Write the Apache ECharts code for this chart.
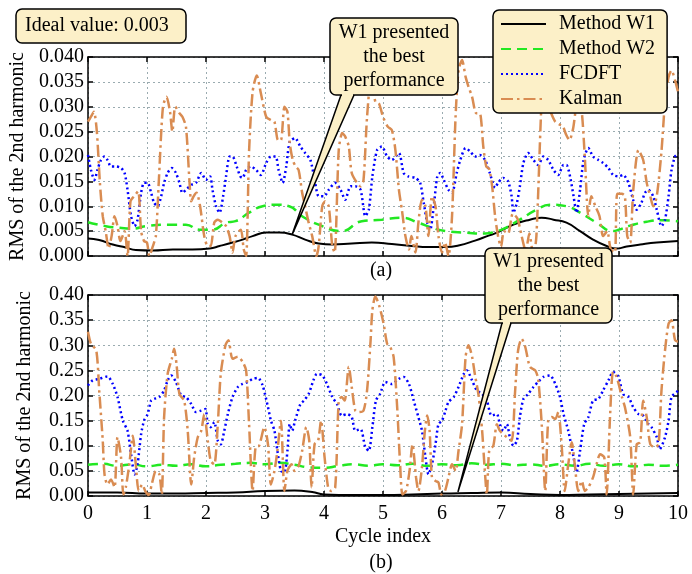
<!DOCTYPE html>
<html>
<head>
<meta charset="utf-8">
<script src="https://cdn.jsdelivr.net/npm/echarts@6/dist/echarts.min.js"></script>
<style>
html,body{margin:0;padding:0;background:#fff;}
#main{width:692px;height:574px;}
</style>
</head>
<body>
<div id="main"></div>
<script>
var seriesNames = ['Method W1', 'Method W2', 'FCDFT', 'Kalman'];
var xTicks = [0, 1, 2, 3, 4, 5, 6, 7, 8, 9, 10];
var topTicks = ['0.000', '0.005', '0.010', '0.015', '0.020', '0.025', '0.030', '0.035', '0.040'];
var botTicks = ['0.00', '0.05', '0.10', '0.15', '0.20', '0.25', '0.30', '0.35', '0.40'];

// (a) values: [cycle, rms]
var topW1 = [[0,0.0035],[0.19,0.0032],[0.42,0.0023],[0.64,0.0017],[0.81,0.0012],[1.1,0.0011],[1.44,0.0013],[1.77,0.0013],[2.06,0.0015],[2.23,0.002],[2.45,0.0027],[2.62,0.0033],[2.79,0.004],[3.02,0.0047],[3.24,0.0047],[3.46,0.0043],[3.68,0.0033],[3.91,0.0025],[4.14,0.0023],[4.47,0.0025],[4.81,0.0027],[5.15,0.0024],[5.49,0.002],[5.77,0.0018],[6.06,0.0018],[6.28,0.0021],[6.56,0.0031],[6.79,0.0041],[6.93,0.0047],[7.21,0.0063],[7.49,0.0073],[7.69,0.0077],[7.89,0.0073],[8.11,0.0067],[8.34,0.005],[8.56,0.0033],[8.79,0.002],[8.96,0.0015],[9.13,0.0019],[9.36,0.0023],[9.64,0.0027],[10,0.003]];
var topW2 = [[0,0.0068],[0.3,0.006],[0.53,0.0057],[0.76,0.0055],[0.98,0.006],[1.38,0.0063],[1.66,0.0063],[1.89,0.0053],[2.11,0.0053],[2.34,0.0067],[2.5,0.007],[2.73,0.0087],[2.96,0.010],[3.19,0.0103],[3.41,0.010],[3.63,0.008],[3.91,0.0063],[4.3,0.005],[4.64,0.007],[4.98,0.0073],[5.32,0.0077],[5.6,0.0067],[5.83,0.0057],[6.06,0.005],[6.4,0.0047],[6.73,0.0045],[6.93,0.005],[7.05,0.0055],[7.32,0.0073],[7.6,0.0093],[7.83,0.0103],[8.11,0.010],[8.34,0.0087],[8.62,0.0067],[8.9,0.005],[9.0,0.0053],[9.19,0.0061],[9.47,0.0069],[9.75,0.0072],[10,0.007]];
var topFcdft = [[0,0.0203],[0.05,0.0173],[0.11,0.0153],[0.16,0.0173],[0.22,0.0193],[0.28,0.020],[0.33,0.0193],[0.39,0.018],[0.47,0.018],[0.56,0.0177],[0.62,0.0167],[0.67,0.0133],[0.73,0.008],[0.79,0.006],[0.84,0.0073],[0.9,0.0127],[0.95,0.0147],[1.01,0.0147],[1.07,0.0127],[1.12,0.0107],[1.18,0.010],[1.24,0.012],[1.29,0.0147],[1.35,0.0167],[1.42,0.0177],[1.49,0.0167],[1.55,0.0147],[1.6,0.0127],[1.66,0.0133],[1.75,0.0143],[1.83,0.0147],[1.92,0.0167],[2.0,0.0153],[2.07,0.016],[2.11,0.0133],[2.17,0.010],[2.23,0.0087],[2.29,0.012],[2.34,0.016],[2.4,0.020],[2.45,0.020],[2.52,0.018],[2.58,0.016],[2.62,0.0157],[2.68,0.0173],[2.76,0.018],[2.85,0.0173],[2.93,0.0163],[3.02,0.0187],[3.1,0.020],[3.18,0.020],[3.23,0.0173],[3.3,0.0147],[3.36,0.018],[3.42,0.023],[3.51,0.0237],[3.6,0.022],[3.68,0.0207],[3.77,0.0193],[3.85,0.0147],[3.91,0.012],[4.0,0.012],[4.08,0.0133],[4.19,0.0147],[4.28,0.0133],[4.36,0.0113],[4.45,0.014],[4.53,0.014],[4.62,0.0133],[4.7,0.008],[4.76,0.0093],[4.82,0.016],[4.9,0.0213],[4.98,0.022],[5.07,0.020],[5.15,0.0193],[5.27,0.0207],[5.35,0.0167],[5.43,0.016],[5.55,0.0157],[5.63,0.0147],[5.69,0.0107],[5.75,0.0067],[5.8,0.0053],[5.86,0.010],[5.92,0.016],[5.97,0.0167],[6.03,0.0153],[6.11,0.0133],[6.17,0.0127],[6.25,0.0167],[6.31,0.0193],[6.4,0.0217],[6.48,0.021],[6.56,0.020],[6.64,0.0203],[6.73,0.0193],[6.81,0.0167],[6.9,0.0137],[6.95,0.0147],[7.04,0.0157],[7.12,0.015],[7.18,0.012],[7.21,0.0087],[7.27,0.0107],[7.32,0.014],[7.38,0.0187],[7.46,0.0207],[7.55,0.0193],[7.63,0.0183],[7.72,0.020],[7.8,0.0193],[7.89,0.0173],[7.97,0.0163],[8.06,0.0183],[8.11,0.0183],[8.17,0.016],[8.23,0.012],[8.28,0.0087],[8.34,0.0133],[8.4,0.0193],[8.48,0.0217],[8.56,0.020],[8.65,0.0193],[8.73,0.0187],[8.82,0.0177],[8.9,0.0163],[8.99,0.016],[9.07,0.0163],[9.16,0.0147],[9.24,0.0113],[9.3,0.0093],[9.38,0.0107],[9.44,0.0127],[9.5,0.0133],[9.58,0.012],[9.64,0.0093],[9.72,0.006],[9.78,0.0073],[9.84,0.012],[9.89,0.0173],[9.95,0.020],[10,0.0205]];
var topKalman = [[0,0.027],[0.05,0.028],[0.1,0.029],[0.15,0.025],[0.2,0.015],[0.25,0.008],[0.3,0.005],[0.35,0.0015],[0.4,0.004],[0.45,0.008],[0.5,0.006],[0.55,0.003],[0.62,0.005],[0.67,0.0],[0.72,0.011],[0.78,0.012],[0.85,0.013],[0.9,0.005],[0.95,0.003],[1.0,0.0027],[1.04,0.0],[1.1,0.002],[1.15,0.004],[1.2,0.015],[1.27,0.030],[1.33,0.032],[1.39,0.029],[1.43,0.025],[1.48,0.030],[1.55,0.0287],[1.6,0.028],[1.66,0.026],[1.72,0.015],[1.75,0.011],[1.79,0.012],[1.84,0.0127],[1.9,0.010],[1.97,0.004],[2.03,0.002],[2.08,0.002],[2.14,0.0067],[2.2,0.0073],[2.28,0.0067],[2.34,0.006],[2.4,0.004],[2.45,0.0007],[2.5,0.004],[2.59,0.0053],[2.64,0.0013],[2.68,0.0],[2.73,0.021],[2.79,0.033],[2.86,0.0363],[2.93,0.0327],[3.02,0.028],[3.1,0.0273],[3.16,0.027],[3.22,0.0233],[3.27,0.0233],[3.33,0.030],[3.38,0.029],[3.42,0.0227],[3.47,0.0193],[3.52,0.018],[3.57,0.0173],[3.63,0.0127],[3.68,0.010],[3.74,0.0067],[3.8,0.004],[3.87,0.0],[3.91,0.002],[3.97,0.010],[4.02,0.011],[4.08,0.010],[4.14,0.002],[4.18,0.0007],[4.25,0.0213],[4.31,0.0247],[4.36,0.024],[4.42,0.022],[4.47,0.0167],[4.56,0.0147],[4.62,0.014],[4.67,0.0153],[4.73,0.028],[4.8,0.036],[4.87,0.031],[4.93,0.0307],[5.0,0.028],[5.08,0.026],[5.15,0.0253],[5.21,0.0213],[5.27,0.0133],[5.32,0.0093],[5.38,0.004],[5.44,0.0013],[5.48,0.004],[5.55,0.0007],[5.6,0.0067],[5.66,0.0113],[5.72,0.010],[5.77,0.004],[5.83,0.012],[5.89,0.010],[5.94,0.004],[6.0,0.0007],[6.05,0.0027],[6.11,0.0],[6.17,0.008],[6.23,0.028],[6.28,0.0373],[6.34,0.0394],[6.4,0.036],[6.45,0.034],[6.51,0.032],[6.58,0.0287],[6.64,0.0287],[6.7,0.022],[6.75,0.018],[6.8,0.0175],[6.85,0.014],[6.9,0.008],[6.95,0.004],[7.0,0.0018],[7.05,0.005],[7.12,0.0045],[7.2,0.0085],[7.28,0.0075],[7.35,0.004],[7.42,0.001],[7.48,0.0045],[7.55,0.0],[7.6,0.004],[7.68,0.029],[7.72,0.036],[7.78,0.031],[7.85,0.0287],[7.92,0.027],[7.98,0.0265],[8.05,0.026],[8.1,0.0245],[8.16,0.0233],[8.22,0.0255],[8.3,0.031],[8.36,0.030],[8.42,0.020],[8.48,0.008],[8.53,0.012],[8.6,0.010],[8.67,0.008],[8.73,0.004],[8.8,0.005],[8.86,0.0013],[8.93,0.0007],[8.97,0.0125],[9.05,0.0125],[9.1,0.012],[9.14,0.004],[9.19,0.0027],[9.24,0.013],[9.33,0.0213],[9.41,0.0193],[9.47,0.0147],[9.53,0.012],[9.58,0.010],[9.64,0.012],[9.72,0.021],[9.78,0.031],[9.84,0.036],[9.89,0.0373],[9.95,0.0353],[10,0.033]];

// (b)
var botW1 = [[0,0.007],[0.5,0.007],[1,0.005],[1.5,0.005],[2,0.006],[2.5,0.007],[3,0.01],[3.5,0.011],[3.8,0.008],[4,0.003],[4.5,0.002],[5,0.002],[5.5,0.003],[6,0.005],[6.5,0.006],[7,0.007],[7.5,0.004],[8,0.002],[8.5,0.003],[9,0.004],[9.5,0.005],[10,0.006]];
var botW2 = [[0,0.062],[0.25,0.064],[0.5,0.06],[0.75,0.063],[1.0,0.059],[1.25,0.062],[1.5,0.06],[1.75,0.063],[2.0,0.059],[2.25,0.062],[2.5,0.064],[2.75,0.066],[3.0,0.063],[3.25,0.066],[3.5,0.062],[3.75,0.057],[4.0,0.056],[4.25,0.06],[4.5,0.063],[4.75,0.06],[5.0,0.063],[5.25,0.061],[5.5,0.064],[5.75,0.06],[6.0,0.063],[6.25,0.061],[6.5,0.065],[6.75,0.062],[7.0,0.064],[7.25,0.061],[7.5,0.063],[7.75,0.06],[8.0,0.063],[8.25,0.06],[8.5,0.064],[8.75,0.06],[9.0,0.063],[9.25,0.059],[9.5,0.062],[9.75,0.06],[10,0.062]];
var botFcdft = [[0,0.22],[0.08,0.23],[0.19,0.233],[0.33,0.238],[0.42,0.223],[0.5,0.197],[0.59,0.15],[0.67,0.13],[0.73,0.083],[0.79,0.043],[0.84,0.063],[0.9,0.123],[0.95,0.15],[1.01,0.163],[1.07,0.19],[1.12,0.193],[1.21,0.197],[1.29,0.21],[1.35,0.23],[1.41,0.24],[1.49,0.227],[1.58,0.20],[1.66,0.197],[1.75,0.183],[1.83,0.167],[1.92,0.17],[1.99,0.173],[2.03,0.143],[2.08,0.137],[2.14,0.147],[2.2,0.11],[2.25,0.103],[2.31,0.13],[2.37,0.163],[2.45,0.197],[2.54,0.217],[2.62,0.223],[2.71,0.227],[2.79,0.233],[2.88,0.235],[2.96,0.22],[3.05,0.177],[3.1,0.15],[3.16,0.13],[3.21,0.09],[3.27,0.05],[3.33,0.047],[3.38,0.09],[3.42,0.143],[3.46,0.13],[3.51,0.15],[3.6,0.183],[3.66,0.19],[3.74,0.203],[3.82,0.23],[3.88,0.243],[3.97,0.24],[4.05,0.223],[4.14,0.197],[4.22,0.183],[4.3,0.16],[4.39,0.163],[4.47,0.157],[4.53,0.13],[4.62,0.133],[4.7,0.097],[4.76,0.09],[4.82,0.137],[4.88,0.19],[4.95,0.203],[5.04,0.227],[5.15,0.223],[5.27,0.233],[5.35,0.237],[5.44,0.223],[5.52,0.19],[5.6,0.157],[5.66,0.13],[5.72,0.077],[5.77,0.043],[5.83,0.063],[5.89,0.103],[5.94,0.143],[6.0,0.15],[6.06,0.17],[6.11,0.187],[6.2,0.197],[6.28,0.217],[6.37,0.243],[6.42,0.25],[6.51,0.23],[6.59,0.21],[6.68,0.203],[6.76,0.19],[6.84,0.16],[6.93,0.163],[6.98,0.143],[7.04,0.13],[7.1,0.143],[7.15,0.117],[7.21,0.10],[7.27,0.11],[7.32,0.157],[7.38,0.193],[7.46,0.203],[7.55,0.217],[7.63,0.227],[7.72,0.237],[7.83,0.24],[7.92,0.223],[8.0,0.197],[8.06,0.163],[8.14,0.13],[8.23,0.077],[8.28,0.047],[8.34,0.09],[8.41,0.143],[8.48,0.157],[8.56,0.19],[8.65,0.193],[8.73,0.21],[8.82,0.23],[8.9,0.247],[8.99,0.237],[9.07,0.203],[9.16,0.197],[9.24,0.177],[9.33,0.163],[9.41,0.16],[9.5,0.143],[9.55,0.137],[9.64,0.117],[9.69,0.093],[9.78,0.117],[9.84,0.15],[9.89,0.197],[9.98,0.207],[10,0.21]];
var botKalman = [[0,0.327],[0.05,0.303],[0.14,0.29],[0.19,0.21],[0.25,0.11],[0.28,0.043],[0.33,0.023],[0.39,0.033],[0.45,0.017],[0.5,0.117],[0.56,0.077],[0.6,0.003],[0.64,0.017],[0.7,0.063],[0.76,0.12],[0.81,0.063],[0.86,0.01],[0.92,0.023],[0.97,0.01],[1.03,0.002],[1.08,0.023],[1.15,0.05],[1.21,0.043],[1.25,0.003],[1.29,0.157],[1.35,0.243],[1.42,0.273],[1.46,0.293],[1.5,0.263],[1.55,0.203],[1.63,0.19],[1.69,0.13],[1.75,0.023],[1.8,0.077],[1.86,0.117],[1.92,0.13],[1.97,0.163],[2.03,0.11],[2.08,0.07],[2.14,0.063],[2.2,0.143],[2.25,0.243],[2.33,0.30],[2.38,0.31],[2.45,0.273],[2.54,0.277],[2.62,0.267],[2.68,0.25],[2.73,0.143],[2.79,0.01],[2.84,0.097],[2.9,0.10],[2.99,0.137],[3.05,0.103],[3.1,0.023],[3.16,0.05],[3.21,0.09],[3.27,0.15],[3.33,0.01],[3.38,0.05],[3.45,0.063],[3.5,0.05],[3.57,0.06],[3.63,0.09],[3.7,0.137],[3.75,0.11],[3.79,0.017],[3.84,0.103],[3.9,0.11],[3.95,0.15],[4.01,0.077],[4.07,0.017],[4.12,0.01],[4.19,0.017],[4.25,0.19],[4.3,0.197],[4.35,0.19],[4.42,0.257],[4.47,0.217],[4.53,0.17],[4.59,0.167],[4.67,0.17],[4.73,0.21],[4.79,0.31],[4.82,0.37],[4.87,0.397],[4.94,0.377],[5.01,0.343],[5.07,0.303],[5.12,0.297],[5.18,0.277],[5.24,0.177],[5.29,0.063],[5.33,0.003],[5.39,0.01],[5.45,0.05],[5.5,0.103],[5.56,0.037],[5.6,0.01],[5.66,0.057],[5.71,0.13],[5.75,0.16],[5.79,0.13],[5.83,0.037],[5.89,0.03],[5.94,0.027],[5.99,0.003],[6.05,0.01],[6.11,0.037],[6.17,0.063],[6.23,0.05],[6.28,0.09],[6.34,0.143],[6.4,0.277],[6.45,0.30],[6.51,0.277],[6.56,0.24],[6.62,0.2],[6.68,0.13],[6.72,0.06],[6.76,0.003],[6.8,0.09],[6.87,0.10],[6.93,0.143],[6.98,0.13],[7.04,0.123],[7.1,0.117],[7.18,0.11],[7.24,0.21],[7.29,0.29],[7.35,0.313],[7.41,0.297],[7.49,0.257],[7.58,0.25],[7.63,0.233],[7.69,0.143],[7.75,0.01],[7.8,0.15],[7.86,0.157],[7.92,0.153],[7.97,0.167],[8.03,0.097],[8.08,0.01],[8.14,0.063],[8.2,0.107],[8.25,0.063],[8.31,0.01],[8.37,0.03],[8.42,0.01],[8.48,0.017],[8.56,0.037],[8.62,0.063],[8.68,0.083],[8.75,0.077],[8.79,0.003],[8.85,0.163],[8.9,0.247],[8.96,0.237],[9.05,0.197],[9.1,0.177],[9.19,0.117],[9.24,0.003],[9.3,0.103],[9.36,0.107],[9.41,0.19],[9.47,0.157],[9.53,0.103],[9.61,0.097],[9.67,0.103],[9.72,0.21],[9.78,0.29],[9.84,0.343],[9.89,0.35],[9.95,0.31],[10,0.307]];

var serif = 'Liberation Serif';
var beige = '#fcf0c8';
var gridColor = '#9aabb0';

var lineStyles = [
	{ color: '#000000', width: 2, type: 'solid' },
	{ color: '#22e822', width: 2.5, type: [10, 6] },
	{ color: '#0000ff', width: 2.5, type: [2, 3] },
	{ color: '#d98c52', width: 2.5, type: [12, 4, 2.5, 4] }
];

function makeX(grid, pos, labels) {
	return {
		type: 'value', gridIndex: grid, position: pos,
		min: 0, max: 10, interval: 1,
		axisLine: { show: true, onZero: false, lineStyle: { color: '#000', width: 1.5 } },
		axisTick: { show: true, inside: true, length: 5, lineStyle: { color: '#000', width: 1.5 } },
		axisLabel: labels ? {
			show: true, color: '#000', fontFamily: serif, fontSize: 20, margin: 8,
			formatter: function (v) { return xTicks.indexOf(v) >= 0 ? String(v) : ''; }
		} : { show: false },
		splitLine: pos == 'bottom' ? { show: true, lineStyle: { color: gridColor, width: 1, type: [2, 3] } } : { show: false }
	};
}
function makeY(grid, pos, max, interval, ticks) {
	return {
		type: 'value', gridIndex: grid, position: pos,
		min: 0, max: max, interval: interval,
		name: pos == 'left' ? 'RMS of the 2nd harmonic' : '',
		nameLocation: 'middle', nameGap: 53,
		nameTextStyle: { color: '#000', fontFamily: serif, fontSize: 20 },
		axisLine: { show: true, onZero: false, lineStyle: { color: '#000', width: 1.5 } },
		axisTick: { show: true, inside: true, length: 5, lineStyle: { color: '#000', width: 1.5 } },
		axisLabel: pos == 'left' ? {
			show: true, color: '#000', fontFamily: serif, fontSize: 20, margin: 4,
			formatter: function (v) { return ticks[Math.round(v / interval)]; }
		} : { show: false },
		splitLine: pos == 'left' ? { show: true, lineStyle: { color: gridColor, width: 1, type: [2, 3] } } : { show: false }
	};
}

var topData = [topW1, topW2, topFcdft, topKalman];
var botData = [botW1, botW2, botFcdft, botKalman];
var series = [];
for (var i = 0; i < 4; i++) {
	series.push({
		name: seriesNames[i], type: 'line', xAxisIndex: 0, yAxisIndex: 0,
		data: topData[i], symbol: 'none', smooth: i < 2 ? 0.5 : 0.25,
		lineStyle: lineStyles[i], itemStyle: { color: lineStyles[i].color }, animation: false
	});
}
for (var j = 0; j < 4; j++) {
	series.push({
		name: seriesNames[j], type: 'line', xAxisIndex: 2, yAxisIndex: 2,
		data: botData[j], symbol: 'none', smooth: j < 2 ? 0.5 : 0.25,
		lineStyle: lineStyles[j], itemStyle: { color: lineStyles[j].color }, animation: false
	});
}

var myChart = echarts.init(document.getElementById('main'));
var option = {
	backgroundColor: '#fff',
	animation: false,
	grid: [
		{ left: 88, right: 14, top: 57, height: 199 },
		{ left: 88, right: 14, top: 295, height: 201 }
	],
	xAxis: [
		makeX(0, 'bottom', false),
		makeX(0, 'top', false),
		Object.assign(makeX(1, 'bottom', true), {
			name: 'Cycle index', nameLocation: 'middle', nameGap: 31,
			nameTextStyle: { color: '#000', fontFamily: serif, fontSize: 20 }
		}),
		makeX(1, 'top', false)
	],
	yAxis: [
		makeY(0, 'left', 0.04, 0.005, topTicks),
		makeY(0, 'right', 0.04, 0.005, topTicks),
		makeY(1, 'left', 0.4, 0.05, botTicks),
		makeY(1, 'right', 0.4, 0.05, botTicks)
	],
	legend: {
		data: seriesNames,
		orient: 'vertical',
		left: 493, top: 10,
		padding: [4, 12, 4, 7],
		itemWidth: 45, itemHeight: 20, itemGap: 5,
		itemStyle: { opacity: 0 },
		backgroundColor: beige,
		borderColor: '#000', borderWidth: 1.5, borderRadius: 6,
		textStyle: { color: '#000', fontFamily: serif, fontSize: 20, padding: [0, 0, 0, 8] },
		z: 20
	},
	series: series
};
myChart.setOption(option);

// callouts: tip anchored to data points
function callout(box, base, tip, lines) {
	var els = [];
	els.push({
		type: 'polygon', z: 30,
		shape: { points: [[base[0], box[1] + box[3]], [base[1], box[1] + box[3]], tip] },
		style: { fill: beige, stroke: '#000', lineWidth: 1.5 }
	});
	els.push({
		type: 'rect', z: 31,
		shape: { x: box[0], y: box[1], width: box[2], height: box[3], r: 6 },
		style: { fill: beige, stroke: '#000', lineWidth: 1.5 }
	});
	els.push({
		type: 'rect', z: 32,
		shape: { x: base[0] + 1, y: box[1] + box[3] - 2, width: base[1] - base[0] - 2, height: 3 },
		style: { fill: beige }
	});
	els.push({
		type: 'text', z: 33,
		style: {
			x: box[0] + box[2] / 2, y: box[1] + box[3] / 2,
			text: lines.join('\n'), align: 'center', verticalAlign: 'middle',
			fill: '#000', fontFamily: serif, fontSize: 20, lineHeight: 24
		}
	});
	return els;
}
var tipA = myChart.convertToPixel({ gridIndex: 0 }, [3.46, 0.0043]);
var tipB = myChart.convertToPixel({ gridIndex: 1 }, [6.27, 0.008]);
var graphics = [];
graphics = graphics.concat(callout([330, 18, 128, 77], [341, 354], tipA, ['W1 presented', 'the best', 'performance']));
graphics = graphics.concat(callout([485, 248, 127, 75], [502, 511], tipB, ['W1 presented', 'the best', 'performance']));
graphics.push({
	type: 'rect', z: 30,
	shape: { x: 16, y: 9, width: 170, height: 34, r: 6 },
	style: { fill: beige, stroke: '#000', lineWidth: 1.5 }
});
graphics.push({
	type: 'text', z: 31,
	style: { x: 25, y: 26, text: 'Ideal value: 0.003', verticalAlign: 'middle', fill: '#000', fontFamily: serif, fontSize: 20 }
});
graphics.push({
	type: 'text', z: 31,
	style: { x: 381, y: 271, text: '(a)', align: 'center', verticalAlign: 'middle', fill: '#000', fontFamily: serif, fontSize: 20 }
});
graphics.push({
	type: 'text', z: 31,
	style: { x: 381, y: 563, text: '(b)', align: 'center', verticalAlign: 'middle', fill: '#000', fontFamily: serif, fontSize: 20 }
});
myChart.setOption({ graphic: graphics });
</script>
</body>
</html>
